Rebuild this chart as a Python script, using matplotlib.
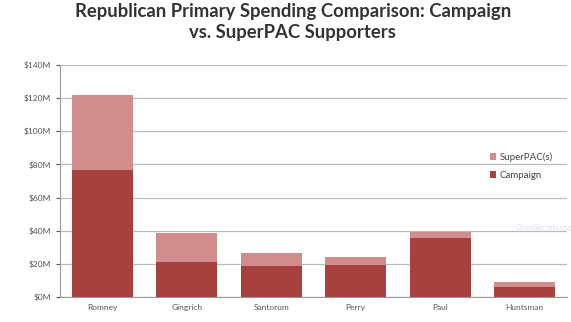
import numpy as np
import matplotlib
matplotlib.use("Agg")
import matplotlib.pyplot as plt
from matplotlib.ticker import FuncFormatter

# spending in $ millions
candidates = ["Romney", "Gingrich", "Santorum", "Perry", "Paul", "Huntsman"]
campaign = [76.5, 21, 19, 19.5, 35.5, 6]
superpac = [45, 17.5, 7.5, 4.5, 4, 3]

yticks = np.arange(0, 141, 20)

plt.rcParams['font.family'] = ['Lato', 'DejaVu Sans']

fig = plt.figure(figsize=(5.71, 3.22), dpi=100)
ax = fig.add_axes([0.105, 0.077, 0.888, 0.722])

x = np.arange(len(candidates))
ax.bar(x, campaign, width=0.72, color='#A8403E', label='Campaign', zorder=3)
ax.bar(x, superpac, width=0.72, bottom=campaign, color='#D28C8C',
       label='SuperPAC(s)', zorder=3)

ax.set_xlim(-0.5, len(candidates) - 0.5)
ax.set_ylim(0, 140)
ax.set_yticks(yticks)
ax.yaxis.set_major_formatter(FuncFormatter(lambda v, p: '$%dM' % v))
ax.set_xticks(x)
ax.set_xticklabels(candidates)
ax.tick_params(axis='both', labelsize=6, colors='#555555', length=3)
ax.tick_params(axis='x', length=0, pad=5)
ax.grid(axis='y', color='#BBBBBB', linewidth=0.9, zorder=0)

for s in ['top', 'right']:
    ax.spines[s].set_visible(False)
for s in ['left', 'bottom']:
    ax.spines[s].set_color('#999999')

h, l = ax.get_legend_handles_labels()
ax.legend(h[::-1], l[::-1], loc='upper left', bbox_to_anchor=(0.83, 0.66),
          fontsize=7, frameon=False, handlelength=0.7, handleheight=0.7,
          handletextpad=0.3, labelspacing=0.9, labelcolor='#444444')

# watermark
ax.text(0.955, 0.3, 'OpenSecrets.org', transform=ax.transAxes, fontsize=5.5,
        color='#D9DDF0', ha='center', va='center', zorder=2)

fig.suptitle('Republican Primary Spending Comparison: Campaign\nvs. SuperPAC Supporters',
             fontsize=13.3, fontweight='bold', color='#333333', y=0.99,
             x=0.513, linespacing=1.3)

fig.savefig('out.png', dpi=100)
